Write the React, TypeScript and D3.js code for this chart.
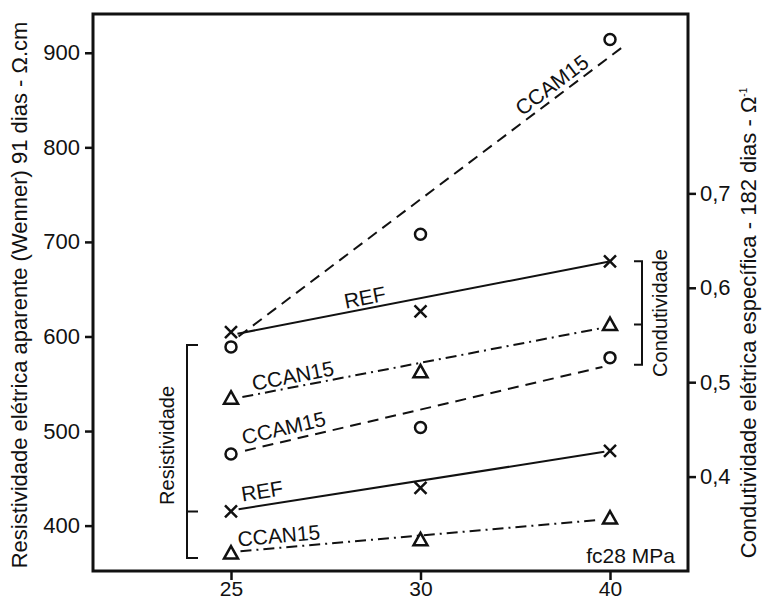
import React, { useEffect, useRef } from 'react';
import * as d3 from 'd3';

// fc28 (MPa) - posições equidistantes no gráfico
const categories = ['25', '30', '40'];

// Resistividade elétrica aparente (Wenner) 91 dias - eixo esquerdo
const resCCAM15 = [589, 708, 914];
const resREF = [415, 440, 479];
const resCCAN15 = [371, 385, 408];

// Condutividade elétrica específica 182 dias - eixo direito
const condREF = [0.553, 0.575, 0.628];
const condCCAN15 = [0.483, 0.511, 0.561];
const condCCAM15 = [0.424, 0.452, 0.526];

// retas de ajuste: valor em fc=25 e em fc=40
const fitResCCAM15 = [594, 896];
const fitResREF = [416, 479];
const fitResCCAN15 = [372, 407];
const fitCondREF = [0.55, 0.628];
const fitCondCCAN15 = [0.482, 0.559];
const fitCondCCAM15 = [0.424, 0.518];

const leftTicks = [400, 500, 600, 700, 800, 900];
const rightTicks = [0.4, 0.5, 0.6, 0.7];

type Marker = 'circle' | 'cross' | 'triangle';

interface Serie {
  name: string;
  axis: 'left' | 'right';
  values: number[];
  fit: number[];
  marker: Marker;
  dash: string;
  span: [number, number];
  labelT: number;
  labelGap: number;
}

const series: Serie[] = [
  { name: 'CCAM15', axis: 'left', values: resCCAM15, fit: fitResCCAM15, marker: 'circle', dash: '11,7', span: [0.02, 1.03], labelT: 0.866, labelGap: 5 },
  { name: 'REF', axis: 'left', values: resREF, fit: fitResREF, marker: 'cross', dash: 'none', span: [0.02, 0.985], labelT: 0.088, labelGap: 7 },
  { name: 'CCAN15', axis: 'left', values: resCCAN15, fit: fitResCCAN15, marker: 'triangle', dash: '11,5,2,5', span: [0.025, 0.97], labelT: 0.129, labelGap: 5 },
  { name: 'REF', axis: 'right', values: condREF, fit: fitCondREF, marker: 'cross', dash: 'none', span: [0.017, 0.995], labelT: 0.359, labelGap: 4 },
  { name: 'CCAN15', axis: 'right', values: condCCAN15, fit: fitCondCCAN15, marker: 'triangle', dash: '11,5,2,5', span: [0.03, 0.985], labelT: 0.169, labelGap: 4 },
  { name: 'CCAM15', axis: 'right', values: condCCAM15, fit: fitCondCCAM15, marker: 'circle', dash: '11,7', span: [0.037, 0.98], labelT: 0.147, labelGap: 6 },
];

const FONT = '"Liberation Sans", Arial, Helvetica, sans-serif';
const INK = '#111';

export default function App() {
  const svgRef = useRef<SVGSVGElement>(null);
  const width = 763;
  const height = 601;
  const margin = { top: 14, right: 75, bottom: 30, left: 93 };

  useEffect(() => {
    if (!svgRef.current) return;
    const svg = d3.select(svgRef.current);
    svg.selectAll('*').remove();

    const innerWidth = width - margin.left - margin.right;
    const innerHeight = height - margin.top - margin.bottom;

    const g = svg.append('g').attr('transform', `translate(${margin.left},${margin.top})`);

    const x = d3.scalePoint<string>().domain(categories).range([138, 517]);
    const yL = d3.scaleLinear().domain([352, 941]).range([innerHeight, 0]);
    const yR = d3.scaleLinear().domain([0.3, 0.89]).range([innerHeight, 0]);
    const yOf = (s: Serie) => (s.axis === 'left' ? yL : yR);

    // eixos
    const styleAxis = (ax: d3.Selection<SVGGElement, unknown, null, undefined>, size: string) => {
      ax.select('.domain').remove();
      ax.selectAll('line').attr('stroke', INK).attr('stroke-width', 2.5);
      ax.selectAll('text').attr('fill', INK).style('font-family', FONT).style('font-size', size);
    };

    const axL = g.append('g').call(d3.axisLeft(yL).tickValues(leftTicks).tickSize(8).tickPadding(5));
    styleAxis(axL, '22px');

    const axR = g
      .append('g')
      .attr('transform', `translate(${innerWidth},0)`)
      .call(
        d3
          .axisRight(yR)
          .tickValues(rightTicks)
          .tickSize(8)
          .tickPadding(4)
          .tickFormat((d) => d3.format('.1f')(d as number).replace('.', ','))
      );
    styleAxis(axR, '22px');

    const axB = g
      .append('g')
      .attr('transform', `translate(0,${innerHeight})`)
      .call(d3.axisBottom(x).tickSize(9).tickPadding(1));
    styleAxis(axB, '21px');

    // moldura
    g.append('rect')
      .attr('width', innerWidth)
      .attr('height', innerHeight)
      .attr('fill', 'none')
      .attr('stroke', INK)
      .attr('stroke-width', 3);

    // retas de ajuste e rótulos
    series.forEach((s) => {
      const y = yOf(s);
      const x0 = x(categories[0])!;
      const x1 = x(categories[categories.length - 1])!;
      const y0 = y(s.fit[0]);
      const y1 = y(s.fit[1]);
      const at = (t: number): [number, number] => [x0 + (x1 - x0) * t, y0 + (y1 - y0) * t];

      g.append('path')
        .attr('d', d3.line()([at(s.span[0]), at(s.span[1])]))
        .attr('fill', 'none')
        .attr('stroke', INK)
        .attr('stroke-width', 2)
        .attr('stroke-dasharray', s.dash);

      const ang = (Math.atan2(y1 - y0, x1 - x0) * 180) / Math.PI;
      const [lx, ly] = at(s.labelT);
      g.append('text')
        .attr('transform', `translate(${lx},${ly}) rotate(${ang})`)
        .attr('y', -s.labelGap)
        .attr('text-anchor', 'middle')
        .attr('fill', INK)
        .style('font-family', FONT)
        .style('font-size', '21px')
        .text(s.name);
    });

    // marcadores
    series.forEach((s) => {
      const y = yOf(s);
      s.values.forEach((v, i) => {
        const m = g
          .append('g')
          .attr('transform', `translate(${x(categories[i])},${y(v)})`)
          .attr('fill', 'none')
          .attr('stroke', INK)
          .attr('stroke-width', 2.5);
        if (s.marker === 'circle') {
          m.append('circle').attr('r', 5.5);
        } else if (s.marker === 'cross') {
          m.append('path').attr('d', 'M-6,-6L6,6M-6,6L6,-6');
        } else {
          m.append('path').attr('d', 'M0,-7L7,5.5L-7,5.5Z').attr('stroke-linejoin', 'miter');
        }
      });
    });

    // chaves "Resistividade" (em fc=25) e "Condutividade" (em fc=40)
    const resYs = series.filter((s) => s.axis === 'left').map((s) => yL(s.values[0]));
    const bxL = x(categories[0])! - 44;
    const topL = d3.min(resYs)! - 2;
    const botL = d3.max(resYs)! + 5;
    g.append('path')
      .attr('d', `M${bxL + 11},${topL}H${bxL}V${botL}H${bxL + 11}` + resYs.slice(1, -1).map((yy) => `M${bxL},${yy}H${bxL + 11}`).join(''))
      .attr('fill', 'none')
      .attr('stroke', INK)
      .attr('stroke-width', 2);
    g.append('text')
      .attr('transform', `translate(${bxL - 13},${(topL + botL) / 2 - 6}) rotate(-90)`)
      .attr('text-anchor', 'middle')
      .attr('fill', INK)
      .style('font-family', FONT)
      .style('font-size', '20px')
      .text('Resistividade');

    const condYs = series.filter((s) => s.axis === 'right').map((s) => yR(s.values[2]));
    const bxR = x(categories[2])! + 32;
    const topR = d3.min(condYs)!;
    const botR = d3.max(condYs)! + 7;
    g.append('path')
      .attr('d', `M${bxR - 8},${topR}H${bxR}V${botR}H${bxR - 8}` + condYs.slice(1, -1).map((yy) => `M${bxR},${yy}H${bxR - 8}`).join(''))
      .attr('fill', 'none')
      .attr('stroke', INK)
      .attr('stroke-width', 2);
    g.append('text')
      .attr('transform', `translate(${bxR + 25},${(topR + botR) / 2}) rotate(-90)`)
      .attr('text-anchor', 'middle')
      .attr('fill', INK)
      .style('font-family', FONT)
      .style('font-size', '20px')
      .text('Condutividade');

    // unidade do eixo x
    g.append('text')
      .attr('x', innerWidth - 13)
      .attr('y', innerHeight - 8)
      .attr('text-anchor', 'end')
      .attr('fill', INK)
      .style('font-family', FONT)
      .style('font-size', '21px')
      .text('fc28 MPa');

    // títulos dos eixos
    svg
      .append('text')
      .attr('transform', `translate(27,295) rotate(-90)`)
      .attr('text-anchor', 'middle')
      .attr('fill', INK)
      .style('font-family', FONT)
      .style('font-size', '22px')
      .text('Resistividade elétrica aparente (Wenner) 91 dias - Ω.cm');

    const tR = svg
      .append('text')
      .attr('transform', `translate(756,323) rotate(-90)`)
      .attr('text-anchor', 'middle')
      .attr('fill', INK)
      .style('font-family', FONT)
      .style('font-size', '22px');
    tR.append('tspan').text('Condutividade elétrica específica - 182 dias - Ω');
    tR.append('tspan').attr('dy', -9).style('font-size', '10px').text('-1');
  }, []);

  return (
    <div style={{ position: 'absolute', left: 0, top: 0 }}>
      <svg ref={svgRef} width={width} height={height} style={{ display: 'block', background: '#fff' }} />
    </div>
  );
}
